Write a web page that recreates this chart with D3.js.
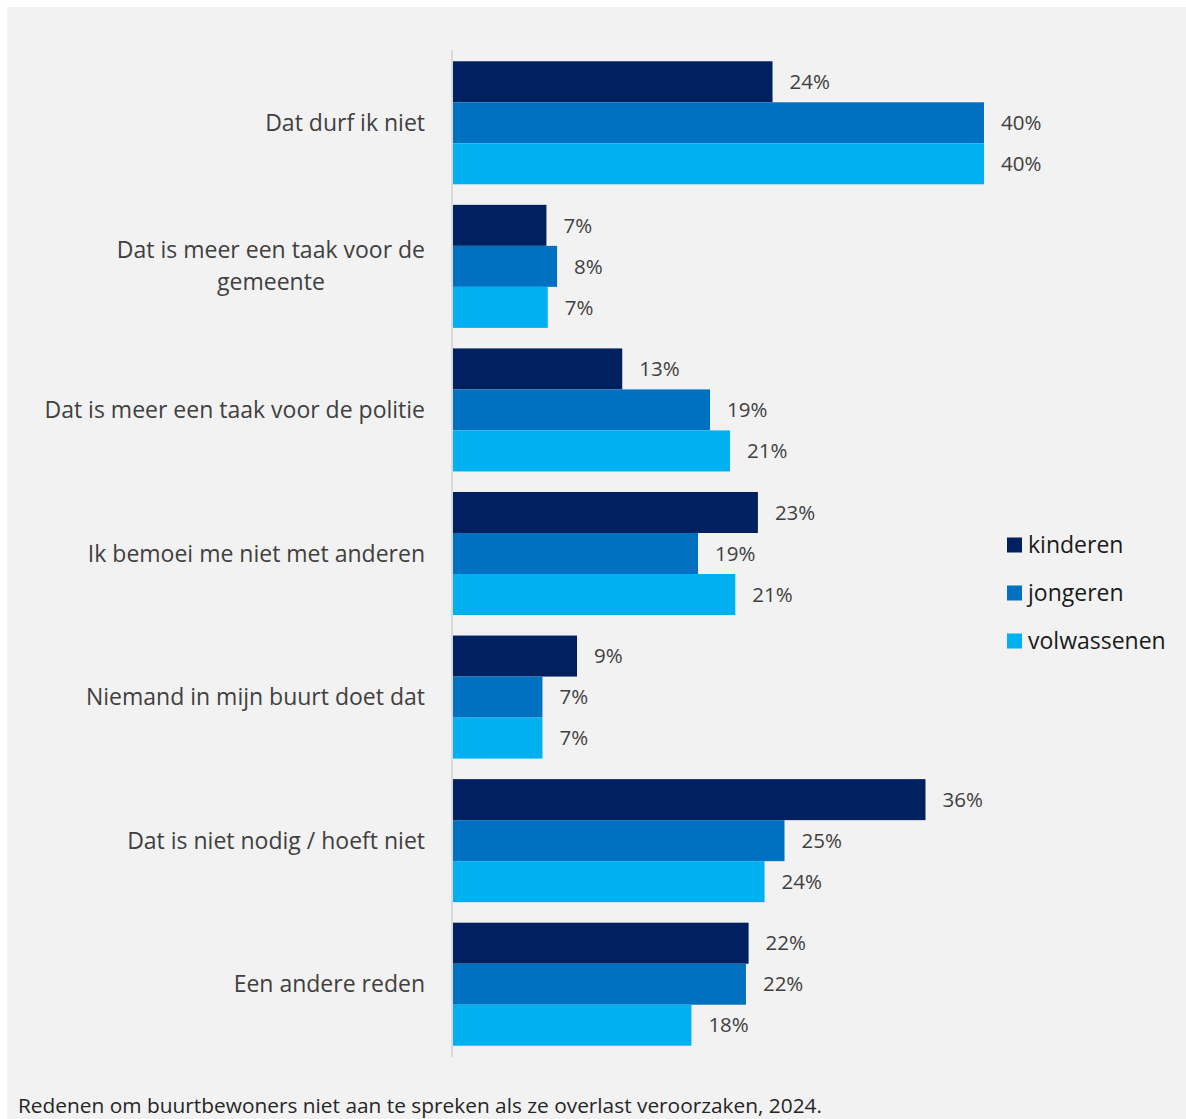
<!DOCTYPE html>
<html>
<head>
<meta charset="utf-8">
<script src="https://cdn.jsdelivr.net/npm/d3@7"></script>
<style>
  html, body { margin: 0; padding: 0; background: #ffffff; }
  svg { display: block; }
</style>
</head>
<body>
<div id="chart"></div>
<script>
const categories = [
  ["Dat durf ik niet"],
  ["Dat is meer een taak voor de", "gemeente"],
  ["Dat is meer een taak voor de politie"],
  ["Ik bemoei me niet met anderen"],
  ["Niemand in mijn buurt doet dat"],
  ["Dat is niet nodig / hoeft niet"],
  ["Een andere reden"]
];
const seriesNames = ["kinderen", "jongeren", "volwassenen"];
const kinderen    = [24.1, 7.1, 12.8, 23.0, 9.4, 35.6, 22.3];
const jongeren    = [40.0, 7.9, 19.4, 18.5, 6.8, 25.0, 22.1];
const volwassenen = [40.0, 7.2, 20.9, 21.3, 6.8, 23.5, 18.0];
const caption = "Redenen om buurtbewoners niet aan te spreken als ze overlast veroorzaken, 2024.";

const W = 1186, H = 1119;
const colors = ["#002060", "#0070C0", "#00B0F0"];
const seriesValues = [kinderen, jongeren, volwassenen];
const FONT = "'Open Sans', sans-serif";

const svg = d3.select("#chart").append("svg").attr("width", W).attr("height", H);
svg.append("rect").attr("x", 7).attr("y", 7).attr("width", W - 7).attr("height", H - 7).attr("fill", "#f2f2f2");

const catIdx = categories.map((c, i) => i);
const y = d3.scaleBand().domain(catIdx).range([51, 1056]).paddingInner(0.143).paddingOuter(0.0715);
const ySub = d3.scaleBand().domain(seriesNames).range([0, y.bandwidth()]).padding(0);
const x = d3.scaleLinear().domain([0, 40]).range([452, 984]);

const fmt = d3.format(".0f");

const groups = svg.append("g").selectAll("g").data(catIdx).join("g")
  .attr("transform", i => `translate(0,${y(i)})`);

seriesNames.forEach((s, si) => {
  groups.append("rect")
    .attr("x", x(0))
    .attr("y", ySub(s))
    .attr("width", i => x(seriesValues[si][i]) - x(0))
    .attr("height", ySub.bandwidth())
    .attr("fill", colors[si]);
  groups.append("text")
    .attr("x", i => x(seriesValues[si][i]) + 17)
    .attr("y", ySub(s) + ySub.bandwidth() / 2)
    .attr("dy", "0.35em")
    .attr("font-family", FONT)
    .attr("font-size", 20.5)
    .attr("fill", "#404040")
    .text(i => fmt(seriesValues[si][i]) + "%");
});

// axis line
svg.append("line").attr("x1", 452).attr("x2", 452).attr("y1", 50).attr("y2", 1057)
  .attr("stroke", "#d9d9d9").attr("stroke-width", 2);

// category labels
const labelRight = 425;
const LFS = 23;
categories.forEach((lines, i) => {
  const cy = y(i) + y.bandwidth() / 2;
  const lh = 32;
  const t = svg.append("text")
    .attr("font-family", FONT)
    .attr("font-size", LFS)
    .attr("fill", "#404040");
  if (lines.length === 1) {
    t.attr("x", labelRight).attr("y", cy).attr("dy", "0.35em").attr("text-anchor", "end").text(lines[0]);
  } else {
    const tmp = svg.append("text").attr("font-family", FONT).attr("font-size", LFS).text(lines[0]);
    const wMax = tmp.node().getComputedTextLength();
    tmp.remove();
    const cx = labelRight - wMax / 2;
    lines.forEach((ln, k) => {
      t.append("tspan").attr("x", cx).attr("text-anchor", "middle")
        .attr("y", cy + (k - (lines.length - 1) / 2) * lh).attr("dy", "0.35em").text(ln);
    });
  }
});

// legend
const legend = svg.append("g").selectAll("g").data(seriesNames).join("g")
  .attr("transform", (d, i) => `translate(1007,${545 + i * 48})`);
legend.append("rect").attr("x", 0).attr("y", -7.5).attr("width", 15).attr("height", 15)
  .attr("fill", (d, i) => colors[i]);
legend.append("text").attr("x", 21).attr("y", 0).attr("dy", "0.35em")
  .attr("font-family", FONT).attr("font-size", 23).attr("fill", "#1a1a1a")
  .text(d => d);

// caption
svg.append("text").attr("x", 18).attr("y", 1113)
  .attr("font-family", FONT).attr("font-size", 20).attr("fill", "#262626")
  .attr("textLength", 804).attr("lengthAdjust", "spacingAndGlyphs")
  .text(caption);
</script>
</body>
</html>
